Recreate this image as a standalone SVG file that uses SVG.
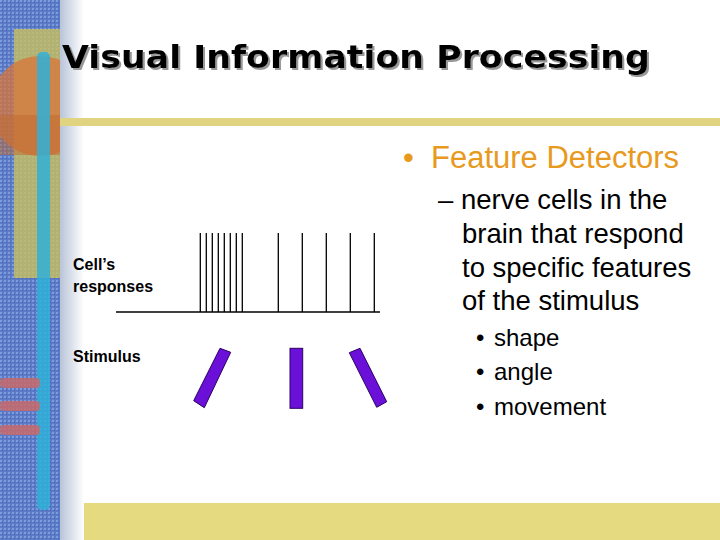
<svg xmlns="http://www.w3.org/2000/svg" width="720" height="540" viewBox="0 0 720 540">
<defs>
<linearGradient id="fade" x1="0" x2="1" y1="0" y2="0">
<stop offset="0" stop-color="#b8c4d8"/><stop offset="1" stop-color="#ffffff"/>
</linearGradient>
<pattern id="tex" width="4" height="4" patternUnits="userSpaceOnUse">
<rect width="4" height="4" fill="#5b7bc8"/><rect width="2" height="2" fill="#7f9ad8"/><rect x="2" y="2" width="1" height="1" fill="#3f5fa8"/>
</pattern>
<clipPath id="side"><rect width="60" height="540"/></clipPath>
<filter id="shadow" x="-5%" y="-20%" width="110%" height="140%">
<feOffset in="SourceAlpha" dx="2" dy="2" result="o"/>
<feFlood flood-color="#999"/><feComposite in2="o" operator="in" result="s"/>
<feMerge><feMergeNode in="s"/><feMergeNode in="SourceGraphic"/></feMerge>
</filter>
</defs>
<style>
.lbl{font-family:"Liberation Sans",Arial,sans-serif;font-weight:bold;font-size:16px;fill:#000}
.body{font-family:"Liberation Sans",Arial,sans-serif;fill:#000}
.spike{stroke:#000;stroke-width:1.3}
.bar{fill:#6a10d8;stroke:#2a0060;stroke-width:1}
</style>
<rect width="720" height="540" fill="#fff"/>
<rect x="60" width="24" height="540" fill="url(#fade)"/>
<g id="sidebar" clip-path="url(#side)">
<rect width="60" height="540" fill="url(#tex)"/>
<rect x="14" y="29" width="46" height="249" fill="#c8c060" opacity="0.8"/>
<circle cx="40" cy="106" r="50" fill="#d8743a" opacity="0.75"/>
<rect x="0" y="115" width="60" height="40" fill="#c06a30" opacity="0.5"/>
<rect x="37" y="52" width="13" height="458" rx="5" fill="#30b0d8" opacity="0.85"/>
<rect x="0" y="378" width="40" height="10" rx="4" fill="#c86a6a" opacity="0.85"/>
<rect x="0" y="401" width="40" height="10" rx="4" fill="#c86a6a" opacity="0.85"/>
<rect x="0" y="425" width="40" height="10" rx="4" fill="#c86a6a" opacity="0.85"/>
</g>
<rect x="60" y="118" width="660" height="8" fill="#e0d480"/>
<rect x="84" y="503" width="636" height="37" fill="#e6da80"/>
<g id="title">
<text x="62" y="68" font-family="'DejaVu Sans','Liberation Sans',sans-serif" font-weight="bold" font-size="32" fill="#000" textLength="588" lengthAdjust="spacingAndGlyphs" filter="url(#shadow)">Visual Information Processing</text>
</g>
<g id="text-right">
<text font-family="'Liberation Sans',Arial,sans-serif" font-size="31" fill="#e89a20"><tspan x="403" y="168">•</tspan><tspan x="431" y="168">Feature Detectors</tspan></text>
<text class="body" font-size="27.5"><tspan x="438" y="209">– nerve cells in the</tspan><tspan x="462" y="243">brain that respond</tspan><tspan x="462" y="277">to specific features</tspan><tspan x="462" y="310">of the stimulus</tspan></text>
<text class="body" font-size="24"><tspan x="476" y="346">•</tspan><tspan x="494" y="346">shape</tspan><tspan x="476" y="380">•</tspan><tspan x="494" y="380">angle</tspan><tspan x="476" y="415">•</tspan><tspan x="494" y="415">movement</tspan></text>
</g>
<g id="labels">
<text class="lbl" x="73" y="270">Cell’s</text>
<text class="lbl" x="73" y="292">responses</text>
<text class="lbl" x="73" y="362">Stimulus</text>
</g>
<g id="responses">
<line x1="116" y1="312" x2="380" y2="312" stroke="#000" stroke-width="1.3"/>
<g class="spike">
<line x1="200.3" y1="233" x2="200.3" y2="312"/><line x1="206.3" y1="233" x2="206.3" y2="312"/>
<line x1="212.3" y1="233" x2="212.3" y2="312"/><line x1="218.3" y1="233" x2="218.3" y2="312"/>
<line x1="224.3" y1="233" x2="224.3" y2="312"/><line x1="230.3" y1="233" x2="230.3" y2="312"/>
<line x1="236.3" y1="233" x2="236.3" y2="312"/><line x1="242.3" y1="233" x2="242.3" y2="312"/>
<line x1="278.3" y1="233" x2="278.3" y2="312"/><line x1="302.3" y1="233" x2="302.3" y2="312"/>
<line x1="326.3" y1="233" x2="326.3" y2="312"/><line x1="350.3" y1="233" x2="350.3" y2="312"/>
<line x1="374.3" y1="233" x2="374.3" y2="312"/>
</g>
</g>
<g id="stimuli">
<polygon class="bar" points="193.7,400.7 204.3,407.7 230.7,352.3 220,348.3"/>
<rect class="bar" x="290" y="348.3" width="12.7" height="60"/>
<polygon class="bar" points="349.3,352.7 360,348.3 386.7,401.7 376.7,407.3"/>
</g>
</svg>
